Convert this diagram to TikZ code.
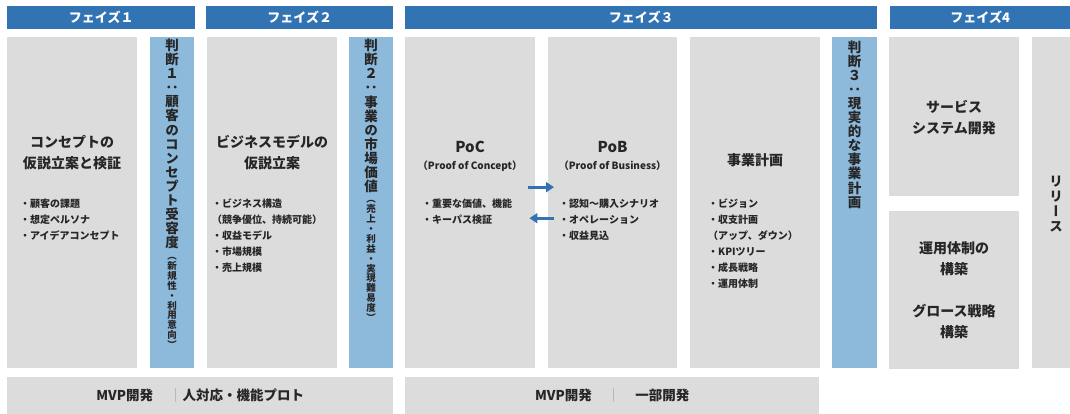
\documentclass[tikz,border=0pt]{standalone}
\usepackage{fontspec}
\setmainfont{Noto Sans CJK JP}
\newfontfamily\vfont[RawFeature=+vert]{Noto Sans CJK JP}
\usetikzlibrary{arrows.meta}
\definecolor{headblue}{HTML}{3273B4}
\definecolor{judgeblue}{HTML}{8DB9DB}
\definecolor{panelgray}{HTML}{DCDCDC}
\definecolor{ink}{HTML}{262626}
\newcommand{\panel}[6]{\node[panel, fill=#6, minimum width=#4pt, minimum height=#5pt] (#1) at (#2,#3) {};}
\newcommand{\header}[5]{\node[panel, fill=headblue, headtext, minimum width=#4pt, minimum height=23pt] (#1) at (#2,#3) {#5};}
\tikzset{
  panel/.style={anchor=north west, inner sep=0pt, draw=none},
  headtext/.style={text=white, font=\bfseries\fontsize{13}{15}\selectfont},
  title/.style={text=ink, align=center, font=\bfseries\fontsize{14}{21}\selectfont},
  bullets/.style={text=ink, align=left, anchor=west, inner sep=0pt, font=\bfseries\fontsize{10}{16}\selectfont},
  subtitle/.style={text=ink, font=\bfseries\fontsize{10}{12}\selectfont},
  vbig/.style={text=ink, align=center, inner sep=0pt, font=\vfont\bfseries\fontsize{13.5}{14.1}\selectfont},
  vsmall/.style={text=ink, align=center, inner sep=0pt, font=\vfont\bfseries\fontsize{9.5}{9.9}\selectfont},
  bartext/.style={text=ink, font=\bfseries\fontsize{13.5}{15}\selectfont},
  flow/.style={draw=headblue, line width=3pt, -{Triangle[length=8pt,width=10pt]}}
}
\newcommand{\sep}{{\mdseries\color{black!40}｜}}
\begin{document}
\begin{tikzpicture}[x=1pt,y=-1pt]
\useasboundingbox (0,0) rectangle (1070,414);
% phase headers
\header{h1}{7}{6}{188}{フェイズ１}
\header{h2}{206}{6}{187}{フェイズ２}
\header{h3}{405}{6}{472}{フェイズ３}
\header{h4}{890}{6}{180}{フェイズ4}
% panels
\panel{concept}{7}{37}{130}{331}{panelgray}
\panel{judge1}{150}{37}{44}{331}{judgeblue}
\panel{model}{207}{37}{130}{331}{panelgray}
\panel{judge2}{349}{37}{44}{331}{judgeblue}
\panel{poc}{405}{37}{130}{331}{panelgray}
\panel{pob}{548}{37}{129}{331}{panelgray}
\panel{plan}{690}{37}{130}{331}{panelgray}
\panel{judge3}{832}{37}{45}{331}{judgeblue}
\panel{system}{889}{37}{130}{159}{panelgray}
\panel{ops}{889}{211}{130}{158}{panelgray}
\panel{release}{1032}{37}{38}{331}{panelgray}
% bottom bars
\node[panel, fill=panelgray, bartext, minimum width=386pt, minimum height=37pt] (mvp1) at (7,377) {MVP開発\hspace{16pt}\sep 人対応・機能プロト};
\node[panel, fill=panelgray, bartext, minimum width=414pt, minimum height=37pt] (mvp2) at (405,377) {MVP開発\hspace{15pt}\sep\hspace{15pt}一部開発};
% phase 1
\node[title] (conceptT) at (72,152.5) {コンセプトの\\仮説立案と検証};
\node[bullets] (conceptB) at (20,220) {・顧客の課題\\・想定ペルソナ\\・アイデアコンセプト};
\node[vbig] (judge1T) at (172,144) {判\\断\\１\\：\\顧\\客\\の\\コ\\ン\\セ\\プ\\ト\\受\\容\\度};
\node[vsmall] (judge1S) at (172,303) {（\\新\\規\\性\\・\\利\\用\\意\\向\\）};
% phase 2
\node[title] (modelT) at (272,152.5) {ビジネスモデルの\\仮説立案};
\node[bullets] (modelB) at (212,236) {・ビジネス構造\\（競争優位、持続可能）\\・収益モデル\\・市場規模\\・売上規模};
\node[vbig] (judge2T) at (371,116) {判\\断\\２\\：\\事\\業\\の\\市\\場\\価\\値};
\node[vsmall] (judge2S) at (371,261) {（\\売\\上\\・\\利\\益\\・\\実\\現\\難\\易\\度\\）};
% phase 3
\node[title, font=\bfseries\fontsize{15}{18}\selectfont] (pocT) at (470,147) {PoC};
\node[subtitle] (pocS) at (470,166) {（Proof of Concept）};
\node[bullets] (pocB) at (422,212) {・重要な価値、機能\\・キーパス検証};
\node[title, font=\bfseries\fontsize{15}{18}\selectfont] (pobT) at (612.5,147) {PoB};
\node[subtitle] (pobS) at (612.5,166) {（Proof of Business）};
\node[bullets] (pobB) at (559,220) {・認知〜購入シナリオ\\・オペレーション\\・収益見込};
\node[title] (planT) at (755,160) {事業計画};
\node[bullets] (planB) at (708,244) {・ビジョン\\・収支計画\\（アップ、ダウン）\\・KPIツリー\\・成長戦略\\・運用体制};
\node[vbig] (judge3T) at (854.5,124.5) {判\\断\\３\\：\\現\\実\\的\\な\\事\\業\\計\\画};
% phase 4
\node[title] (systemT) at (954,117.5) {サービス\\システム開発};
\node[title] (opsT) at (954,290.5) {運用体制の\\構築\\[21pt]グロース戦略\\構築};
\node[vbig, font=\vfont\bfseries\fontsize{13.5}{15}\selectfont] (releaseT) at (1056,204.5) {リ\\リ\\ー\\ス};
% arrows between PoC and PoB
\draw[flow, shorten <=-7pt, shorten >=-6pt] ([yshift=15.5pt]poc.east) -- ([yshift=15.5pt]pob.west);
\draw[flow, shorten <=-6pt, shorten >=-6pt] ([yshift=-15.5pt]pob.west) -- ([yshift=-15.5pt]poc.east);
\end{tikzpicture}
\end{document}
